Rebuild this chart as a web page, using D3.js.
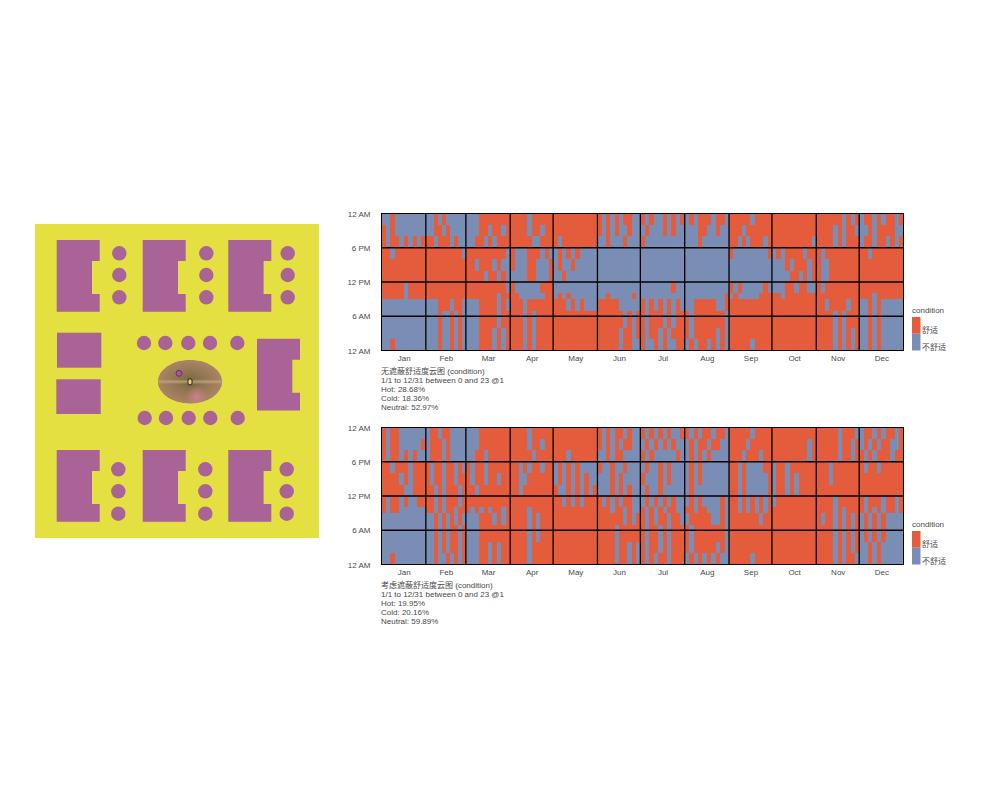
<!DOCTYPE html>
<html>
<head>
<meta charset="utf-8">
<script src="https://cdn.jsdelivr.net/npm/d3@7"></script>
<style>
html, body { margin: 0; padding: 0; background: #fff; }
text { font-family: "Liberation Sans", "Noto Sans CJK SC", sans-serif; }
</style>
</head>
<body>
<div id="chart"></div>
<script>
// ---- chart data ----
var monthLabels = ["Jan","Feb","Mar","Apr","May","Jun","Jul","Aug","Sep","Oct","Nov","Dec"];
var hourTicks = [24, 18, 12, 6, 0];
var hourTickLabels = ["12 AM", "6 PM", "12 PM", "6 AM", "12 AM"];
// hour bands, top of plot to bottom
var hourEdges = [24, 22, 20, 18, 16, 14, 12, 10, 9, 7, 4, 2, 0];
var legendLabels = ["舒适", "不舒适"];

var noShadeTitle = ["无遮蔽舒适度云图 (condition)", "1/1 to 12/31 between 0 and 23 @1", "Hot: 28.68%", "Cold: 18.36%", "Neutral: 52.97%"];
var shadeTitle = ["考虑遮蔽舒适度云图 (condition)", "1/1 to 12/31 between 0 and 23 @1", "Hot: 19.95%", "Cold: 20.16%", "Neutral: 59.89%"];

// one line per month, one string per hour band, ten time bins in each month
// # = comfortable, . = not comfortable
var noShadeGrid = [
  ["..#.......","#.#.......","#.##.#.#.#","##.#######","##########","##########","#####.####","#####.####","..........","..........","..........","..#......."],
  ["..#.#.....","..##.#....","##.###.#..","#########.","##########","##########","##########","##########","...###.##.","...#..#.#.","...#..#.#.","...#..#.#."],
  ["...#######","...##.##.#","..##.#.###","#########.","##.###.#..","####.##.#.","#########.","#######.##","...####.#.","...####.##","...###.#.#","...###.#.#"],
  ["####.#####","####.##.##","#####..###","#...###.#.","#...##...#","....##...#","#......###","##......##","###.######","###.#.####","###.#.####","###.#.####"],
  ["##########","##########","#.########",".#.#.#....",".#..#.....","..#.......","..........",".#.#......","###.#.#...","##########","##########","##########"],
  ["#.#.#.##..","#.#.#..#..","..#...#...","..........","..........","..........","..........","..#.....#.","#####.....","######.#.#","#####.##.#","#####.##.."],
  ["#.#..#.#.#",".#...#.#..","#.........","..........","..........","..........",".......#..","..........","#.#.#.#.#.","#.###.#.##","#.##.#.###","#..#.#..##"],
  [".#.###.##.","...##..#..","...#......","..........","..........","..........","..........",".........#","..#####..#","#.#######.","#.#####.#.",".#.##.#.#."],
  ["#####.####","###.######","##.#.###.#","#........#","..........","..........","#.#.....#.",".#.....###","##########","##########","##########","#####.####"],
  ["##########","##########","#########.",".#.####.##","...#.###.#","....##.#.#","...##.##..","##.#######","##########","##########","##########","##########"],
  ["######.#.#","####.#.##.","####.#.###","#.########","#..#######","#..#######","#.########","##########","##.####.##","####.#.###","####.#.#.#","####.#.#.#"],
  [".##.#.##.#","..#.####..",".##.##.#.#","##.#######","##########","##########","##########","###.######","..#.#.....","..#.#.....","..#.#.....","..#.#....."]
];
var shadeGrid = [
  ["#.##......","#.##.....#","#.##.#.#..","##.###.###","####.#.###","#####..###","#.##.#..##","#.##......","..........","..........","..........","..#......."],
  [".##.##....",".###.#....",".###.#....","#.##.##.#.","#.##.##.##","##.#.###.#","##.#.###.#","##.#.##.##","..#.#.#.#.","..#.#.##.#","..#.#.##.#","..#..#.#.#"],
  ["...#######","...#######","..##.#####","#.##.#####","#.##.##.##","##.#######","##########","#.#.#.##.#","...###.#.#","...#######","...##.#.##","...##.#.##"],
  ["####.#####","####.##.##","#####.####","##.#.##.##","##..######","##.#######","##########","####.#####","####.#.###","####.#.###","####.#####","####.#####"],
  ["##########","##########","###.######",".#.#.#....",".#.#.#.#..","#..#.#.#.#","##.#.#.###","##########","##########","##########","##########","##########"],
  ["#.#.##.#..","#.#.#.##..","..#.##....","#..#..#...","...#.#....","...#.#.#..","#.#.#.##..","###.##.#..","######.#.#","####.#####","####.##.#.","####.##.#."],
  ["#.#.#.#..#",".#.#.#.#..","#.#.....#.",".#..#.#...","#...#.#...",".#..#.....",".#.#.#.#..","#.#.#.##..","#.#.##.##.","#.##.#.###","#.##.#.###","#.#.##.###"],
  ["#.#.##.##.",".#.##.##..",".#.#.#....",".#.#......",".#.#......",".#........",".#.#....#.","##.##...#.",".#####..#.","#.#######.","#.#####.#.",".#.#.#.#.."],
  ["#####.####","####.#####","###.###.##","##.#....##","##.#.....#","##.#.....#","##.#.#.#.#","##.#.#.#.#","#######.##","##########","##########","#####.####"],
  ["##########","########.#","########.#",".##.######",".##.#.####",".##.#.####",".#########","##########","##########","##########","##########","##########"],
  ["#####.###.","#####.##.#","#####.##.#","###.######","###.######","##########","####.#####","####.#.###","#.##.#.#.#","####.#.#.#","####.#.#.#","####.#.##."],
  [".##.#.##.#",".#.#.##..#","#.#.###.##","#.##.#####","##########","##########","#.###.##.#","#.#.#.##.#",".#.#.#....",".#.#.#....","..#.#.....","..#.#....."]
];

// ---- site plan data, in plan units from the corner of the ground ----
var groundSize = [284, 314];
var notchedBlocks = [[21.7, 16], [107.7, 16], [193.3, 16], [21.7, 226], [107.7, 226], [193.3, 226]];
var plainBlocks = [[22, 108.7, 44.3, 35], [21.3, 155.3, 44.4, 34.7]];
var plotTrees = [
  [84.3, 29.3], [84.3, 51], [84.3, 73.3], [171.3, 29.3], [171.3, 51], [171.3, 73.3],
  [252.7, 29.3], [252.7, 51], [252.7, 73.3], [83.3, 245.3], [83.3, 267.3], [83.3, 289.7],
  [170.3, 245.3], [170.3, 267.3], [170.3, 289.7], [251.7, 245.3], [251.7, 267.3], [251.7, 289.7],
  [109, 119], [130.3, 119], [153.3, 119], [175, 119], [202.3, 119],
  [109.7, 194], [131, 194], [153.7, 194], [175.3, 194], [202.7, 194]
];
var rightBlock = [222, 114.7];
var pondCentre = [155, 157.7];
var pondRadius = [32.3, 22];
var pondSpot = [161.7, 172.7];
var pondMarker = [144, 149.3];

var red = "#e55c3d";
var blue = "#7a8db5";
var plum = "#a96396";
var ground = "#e4e042";
var textGrey = "#4a4a4a";

var svg = d3.select("#chart").append("svg")
    .attr("width", 1001)
    .attr("height", 798)
    .style("display", "block");

var defs = svg.append("defs");

// ---- site plan ----
var planX = d3.scaleLinear().domain([0, groundSize[0]]).range([35, 319]);
var planY = d3.scaleLinear().domain([0, groundSize[1]]).range([224, 538]);
var plan = svg.append("g");

plan.append("rect")
    .attr("x", planX(0)).attr("y", planY(0))
    .attr("width", planX(groundSize[0]) - planX(0))
    .attr("height", planY(groundSize[1]) - planY(0))
    .attr("fill", ground);

// C shaped block, 43 wide and 71.7 high with a notch on its right side
function blockOutline(p) {
  var x = p[0], y = p[1];
  return d3.line()([
    [planX(x), planY(y)], [planX(x + 43), planY(y)], [planX(x + 43), planY(y + 21)],
    [planX(x + 35.3), planY(y + 21)], [planX(x + 35.3), planY(y + 54)], [planX(x + 43), planY(y + 54)],
    [planX(x + 43), planY(y + 71.7)], [planX(x), planY(y + 71.7)]
  ]) + "Z";
}

plan.selectAll("path.block").data(notchedBlocks.concat([rightBlock])).enter().append("path")
    .attr("class", "block")
    .attr("d", blockOutline)
    .attr("fill", plum);

plan.selectAll("rect.plain").data(plainBlocks).enter().append("rect")
    .attr("class", "plain")
    .attr("x", function(d) { return planX(d[0]); })
    .attr("y", function(d) { return planY(d[1]); })
    .attr("width", function(d) { return d[2]; })
    .attr("height", function(d) { return d[3]; })
    .attr("fill", plum);

plan.selectAll("circle.tree").data(plotTrees).enter().append("circle")
    .attr("class", "tree")
    .attr("cx", function(d) { return planX(d[0]); })
    .attr("cy", function(d) { return planY(d[1]); })
    .attr("r", 7.2)
    .attr("fill", plum);

// the pond in the middle, built up from soft layers
var pondBase = defs.append("radialGradient").attr("id", "pondBase").attr("cx", "50%").attr("cy", "50%").attr("r", "60%");
pondBase.append("stop").attr("offset", "0%").attr("stop-color", "#6d6a3c");
pondBase.append("stop").attr("offset", "35%").attr("stop-color", "#8f7550");
pondBase.append("stop").attr("offset", "100%").attr("stop-color", "#b58a6e");
var pondPink = defs.append("radialGradient").attr("id", "pondPink");
pondPink.append("stop").attr("offset", "0%").attr("stop-color", "#cc7f8a");
pondPink.append("stop").attr("offset", "100%").attr("stop-color", "#cc7f8a").attr("stop-opacity", 0);
var pondBand = defs.append("linearGradient").attr("id", "pondBand").attr("x1", 0).attr("x2", 0).attr("y1", 0).attr("y2", 1);
pondBand.append("stop").attr("offset", "0%").attr("stop-color", "#c4a582").attr("stop-opacity", 0);
pondBand.append("stop").attr("offset", "50%").attr("stop-color", "#c4a582").attr("stop-opacity", 0.8);
pondBand.append("stop").attr("offset", "100%").attr("stop-color", "#c4a582").attr("stop-opacity", 0);
defs.append("clipPath").attr("id", "pondClip").append("ellipse")
    .attr("cx", planX(pondCentre[0])).attr("cy", planY(pondCentre[1]))
    .attr("rx", pondRadius[0]).attr("ry", pondRadius[1]);

var pond = plan.append("g").attr("clip-path", "url(#pondClip)");
pond.append("ellipse")
    .attr("cx", planX(pondCentre[0])).attr("cy", planY(pondCentre[1]))
    .attr("rx", pondRadius[0]).attr("ry", pondRadius[1])
    .attr("fill", "url(#pondBase)");
pond.append("rect")
    .attr("x", planX(pondCentre[0]) - pondRadius[0])
    .attr("y", planY(pondCentre[1]) - 2.5)
    .attr("width", pondRadius[0] * 2).attr("height", 5)
    .attr("fill", "url(#pondBand)");
pond.append("circle")
    .attr("cx", planX(pondSpot[0])).attr("cy", planY(pondSpot[1]))
    .attr("r", 11)
    .attr("fill", "url(#pondPink)");
plan.append("circle")
    .attr("cx", planX(pondMarker[0])).attr("cy", planY(pondMarker[1]))
    .attr("r", 3).attr("fill", "#a3588f")
    .attr("stroke", "#6b2f72").attr("stroke-width", 1);
plan.append("ellipse")
    .attr("cx", planX(pondCentre[0])).attr("cy", planY(pondCentre[1]))
    .attr("rx", 2.2).attr("ry", 3.1).attr("fill", ground)
    .attr("stroke", "#4f3358").attr("stroke-width", 1.2);

// ---- heat maps ----
var x = d3.scaleUtc()
    .domain([new Date(Date.UTC(2023, 0, 1)), new Date(Date.UTC(2024, 0, 1))])
    .range([381.5, 903.5]);
var colour = d3.scaleOrdinal().domain(["#", "."]).range([red, blue]);
var monthStarts = d3.utcMonths(x.domain()[0], x.domain()[1]);

function monthMiddle(m) {
  var next = d3.utcMonth.offset(m, 1);
  return new Date((+m + +next) / 2);
}

function drawHeatmap(grid, titleLines, top, bottom) {
  var y = d3.scaleLinear().domain([24, 0]).range([top, bottom]);
  var g = svg.append("g");

  var cells = [];
  grid.forEach(function(monthRows, m) {
    var start = monthStarts[m];
    var end = d3.utcMonth.offset(start, 1);
    monthRows.forEach(function(row, r) {
      row.split("").forEach(function(c, i) {
        cells.push({
          t0: new Date(+start + (end - start) * i / row.length),
          t1: new Date(+start + (end - start) * (i + 1) / row.length),
          h0: hourEdges[r],
          h1: hourEdges[r + 1],
          c: c
        });
      });
    });
  });

  g.selectAll("rect.cell").data(cells).enter().append("rect")
      .attr("class", "cell")
      .attr("x", function(d) { return x(d.t0); })
      .attr("y", function(d) { return y(d.h0); })
      .attr("width", function(d) { return x(d.t1) - x(d.t0); })
      .attr("height", function(d) { return y(d.h1) - y(d.h0); })
      .attr("shape-rendering", "crispEdges")
      .attr("fill", function(d) { return colour(d.c); });

  // black grid over the cells
  g.selectAll("line.vgrid").data(monthStarts.slice(1)).enter().append("line")
      .attr("class", "vgrid")
      .attr("x1", function(d) { return x(d); }).attr("x2", function(d) { return x(d); })
      .attr("y1", top).attr("y2", bottom)
      .attr("stroke", "#000").attr("stroke-width", 1.3);
  g.selectAll("line.hgrid").data(hourTicks.slice(1, 4)).enter().append("line")
      .attr("class", "hgrid")
      .attr("x1", x.range()[0]).attr("x2", x.range()[1])
      .attr("y1", function(d) { return y(d); }).attr("y2", function(d) { return y(d); })
      .attr("stroke", "#000").attr("stroke-width", 1.3);
  g.append("rect")
      .attr("x", x.range()[0]).attr("y", top)
      .attr("width", x.range()[1] - x.range()[0]).attr("height", bottom - top)
      .attr("fill", "none").attr("stroke", "#000").attr("stroke-width", 1);

  // axes
  var yAxis = d3.axisLeft(y).tickValues(hourTicks)
      .tickFormat(function(d, i) { return hourTickLabels[i]; })
      .tickSize(0).tickPadding(11);
  var yg = g.append("g").attr("transform", "translate(" + x.range()[0] + ",0)").call(yAxis);
  var xAxis = d3.axisBottom(x).tickValues(monthStarts.map(monthMiddle))
      .tickFormat(function(d, i) { return monthLabels[i]; })
      .tickSize(0).tickPadding(5);
  var xg = g.append("g").attr("transform", "translate(0," + bottom + ")").call(xAxis);
  [yg, xg].forEach(function(a) {
    a.select(".domain").remove();
    a.selectAll("text").attr("fill", textGrey).style("font-size", "8px");
  });

  // text block under the plot
  g.selectAll("text.note").data(titleLines).enter().append("text")
      .attr("class", "note")
      .attr("x", x.range()[0] - 0.5)
      .attr("y", function(d, i) { return bottom + 23.5 + i * 9; })
      .attr("fill", textGrey)
      .style("font-size", "8px")
      .text(function(d) { return d; });

  // legend
  var legendY = d3.scaleBand().domain(legendLabels).range([bottom - 33.5, bottom]);
  var legendColour = d3.scaleOrdinal().domain(legendLabels).range([red, blue]);
  g.append("text")
      .attr("x", 912).attr("y", bottom - 38)
      .attr("fill", textGrey)
      .style("font-size", "8px")
      .text("condition");
  g.selectAll("rect.swatch").data(legendLabels).enter().append("rect")
      .attr("class", "swatch")
      .attr("x", 912).attr("width", 8.5)
      .attr("y", function(d) { return legendY(d); })
      .attr("height", legendY.bandwidth())
      .attr("fill", function(d) { return legendColour(d); });
  g.selectAll("text.swatch-label").data(legendLabels).enter().append("text")
      .attr("class", "swatch-label")
      .attr("x", 922)
      .attr("y", function(d) { return legendY(d) + legendY.bandwidth() - 0.5; })
      .attr("fill", textGrey)
      .style("font-size", "8px")
      .text(function(d) { return d; });
}

drawHeatmap(noShadeGrid, noShadeTitle, 213.5, 350.5);
drawHeatmap(shadeGrid, shadeTitle, 427.5, 564.5);
</script>
</body>
</html>
